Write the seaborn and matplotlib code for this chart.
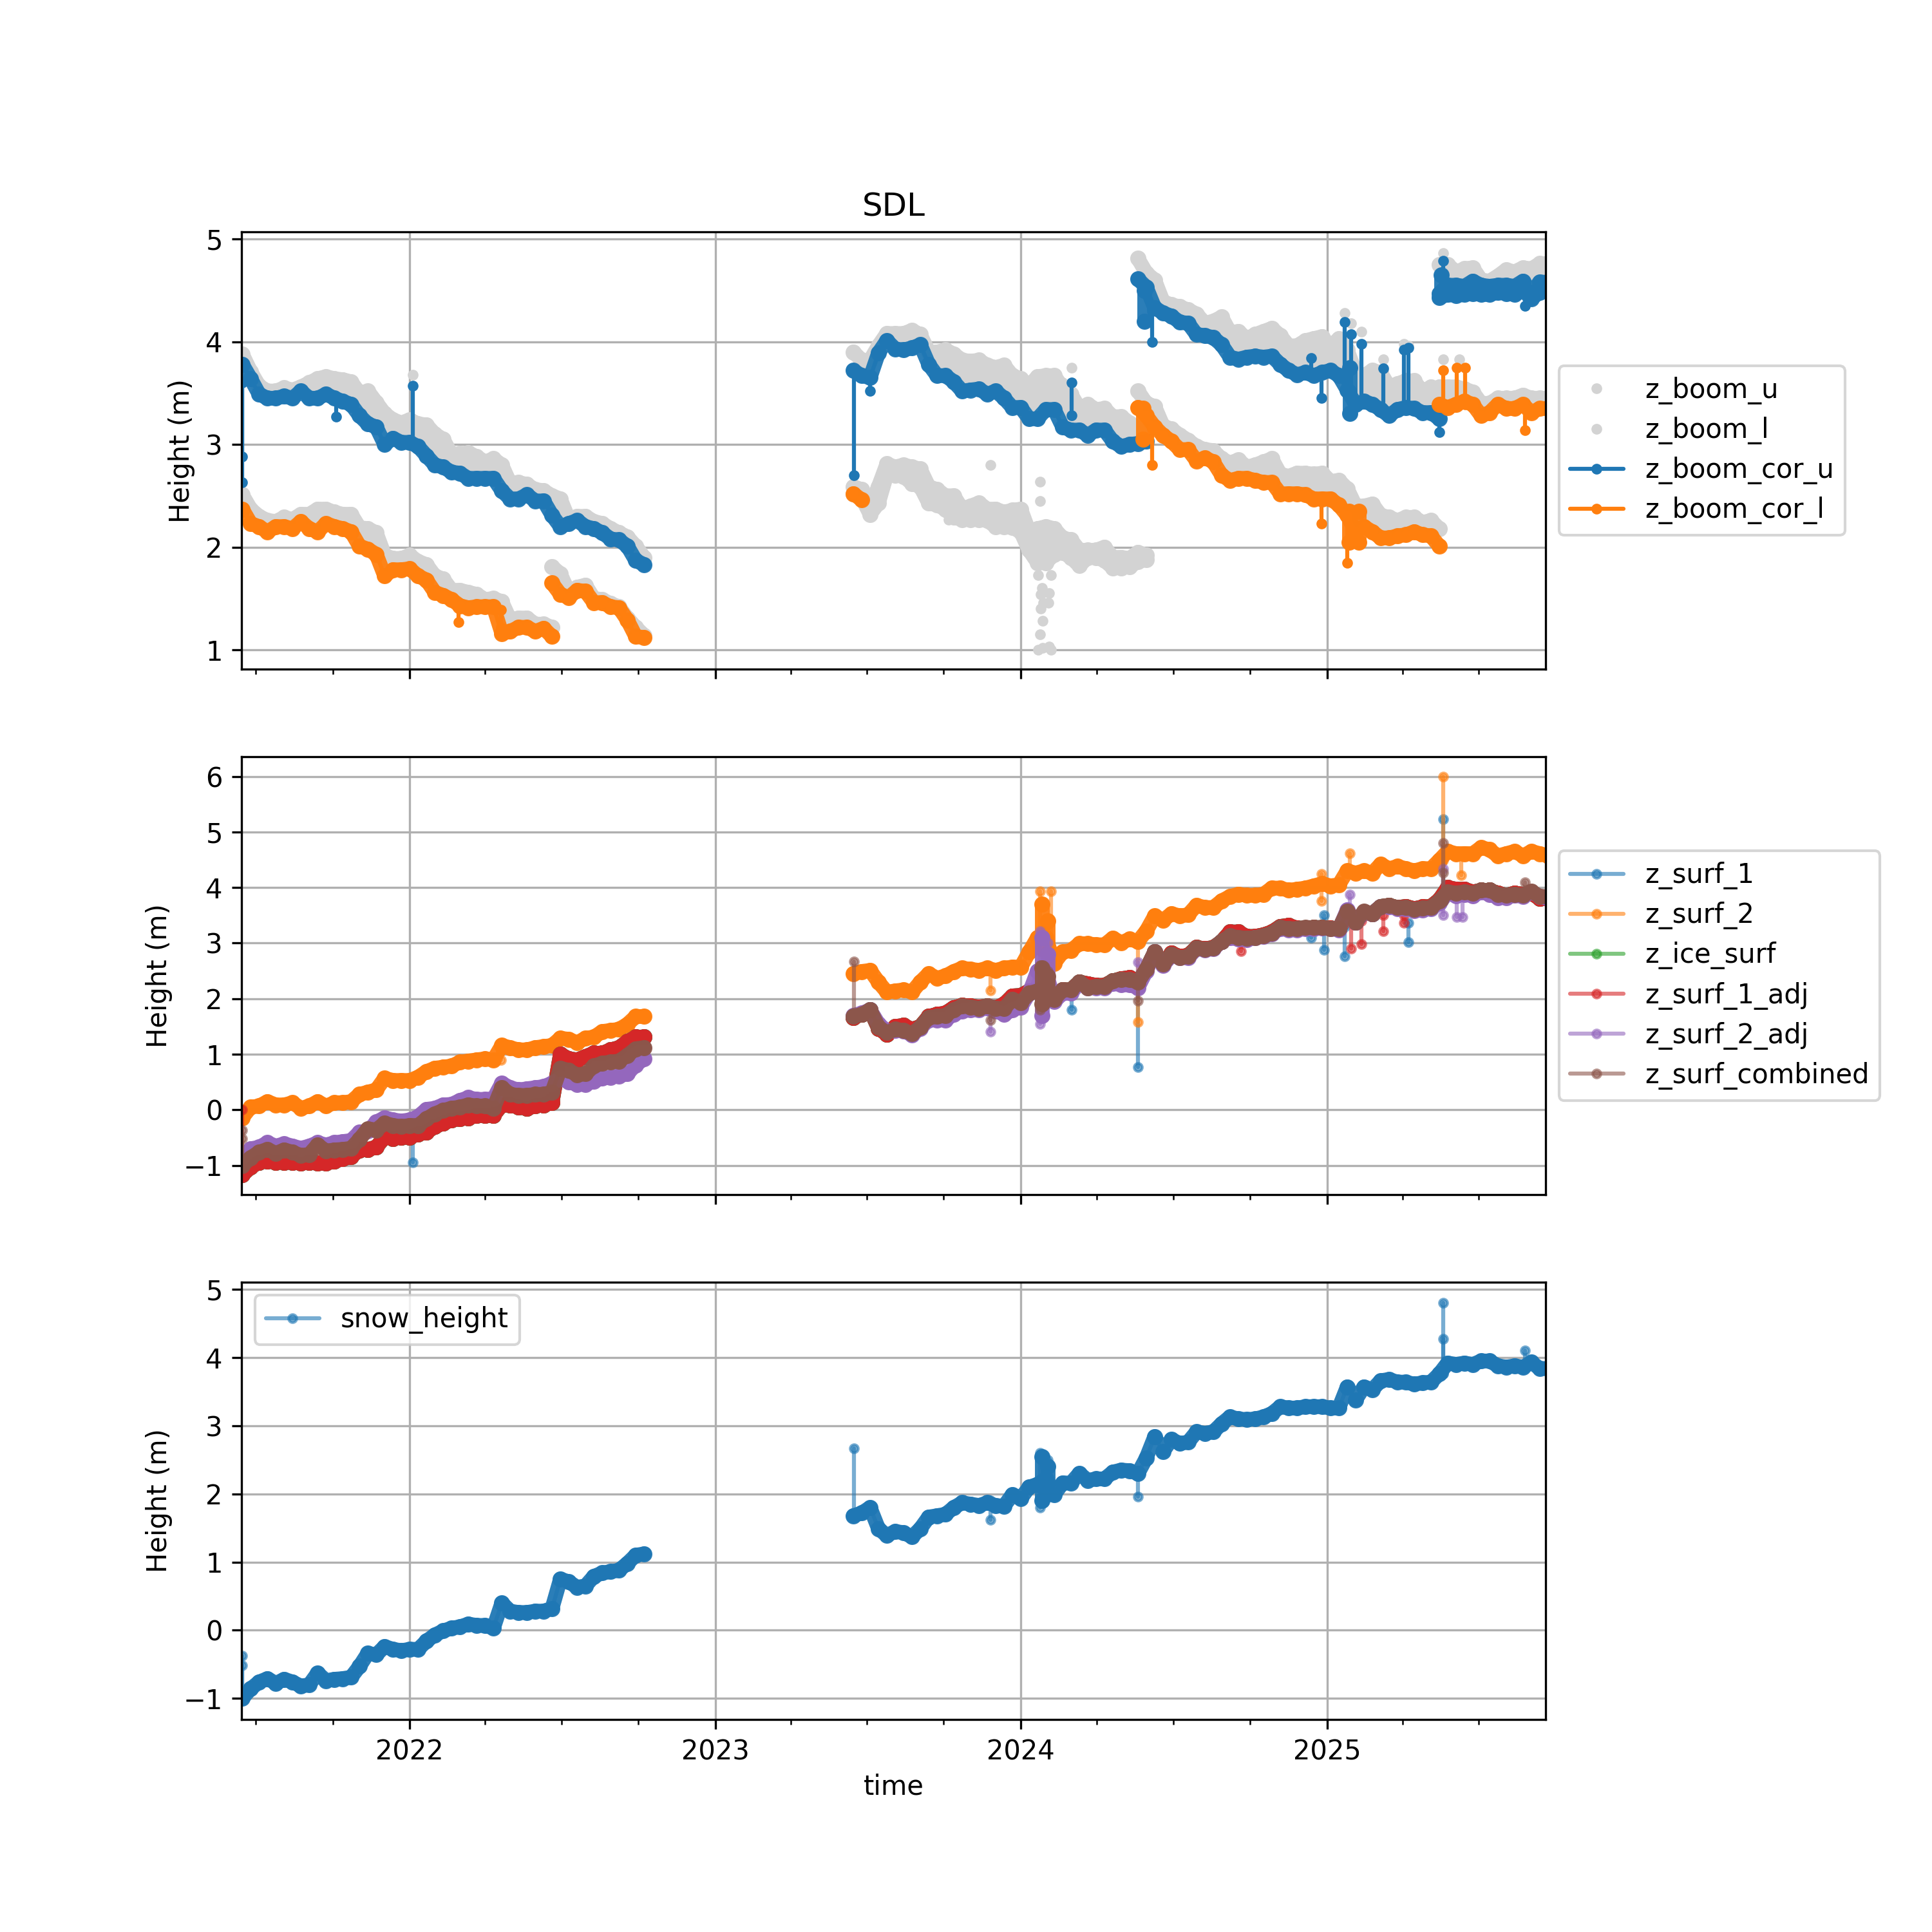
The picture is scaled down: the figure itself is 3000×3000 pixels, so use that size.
import matplotlib

matplotlib.use("Agg")
import matplotlib.dates as mdates
import matplotlib.pyplot as plt
import pandas as pd
import seaborn as sns

date_a = "2021-06-15"
date_a2 = "2022-06-20"
date_b = "2023-06-15"
date_c = "2024-05-20"
date_d = "2025-05-15"

z_boom_u_a = [3.88, 3.71, 3.57, 3.52, 3.52, 3.55, 3.53, 3.56, 3.6, 3.64,
              3.66, 3.64, 3.63, 3.61, 3.5, 3.52, 3.41, 3.3, 3.24, 3.21,
              3.24, 3.2, 3.19, 3.1, 3.05, 2.9, 2.91, 2.92, 2.88, 2.83,
              2.86, 2.8, 2.62, 2.63, 2.61, 2.56, 2.55, 2.5, 2.47, 2.27,
              2.3, 2.3, 2.25, 2.23, 2.18, 2.14, 2.1, 2.01, 1.9]
z_boom_u_b = [3.9, 3.82, 3.82, 3.96, 4.08, 4.08, 4.08, 4.11, 4.07, 3.9,
              3.9, 3.92, 3.88, 3.82, 3.81, 3.82, 3.77, 3.75, 3.77, 3.67,
              3.64, 3.57, 3.66, 3.67, 3.67, 3.55, 3.49, 3.35, 3.39, 3.34,
              3.35, 3.27, 3.27, 3.21, 3.16, 3.12]
z_boom_u_c = [4.81, 4.67, 4.6, 4.39, 4.36, 4.34, 4.31, 4.27, 4.18, 4.2,
              4.24, 4.09, 4.1, 4.03, 4.07, 4.1, 4.13, 4.06, 3.96, 3.96,
              4.01, 4.03, 4.05, 3.95, 4.03, 3.92, 3.7, 3.67, 3.72, 3.7,
              3.56, 3.59, 3.62, 3.62, 3.51, 3.56, 3.48]
z_boom_u_d = [4.75, 4.75, 4.68, 4.71, 4.72, 4.6, 4.59, 4.64, 4.7, 4.68, 4.72, 4.71, 4.76, 4.76]

z_boom_l_a = [2.51, 2.37, 2.3, 2.26, 2.25, 2.29, 2.27, 2.32, 2.32, 2.37,
              2.37, 2.34, 2.32, 2.32, 2.19, 2.18, 2.14, 1.92, 1.89, 1.89,
              1.92, 1.86, 1.83, 1.72, 1.69, 1.58, 1.58, 1.56, 1.54, 1.49,
              1.5, 1.47, 1.29, 1.31, 1.31, 1.25, 1.25, 1.22]
z_boom_l_a2 = [1.81, 1.74, 1.56, 1.61, 1.63, 1.5, 1.49, 1.45, 1.42, 1.31, 1.22, 1.14]
z_boom_l_b = [2.59, 2.56, 2.4, 2.59, 2.81, 2.78, 2.8, 2.78, 2.76, 2.59,
              2.56, 2.5, 2.5, 2.37, 2.4, 2.43, 2.37, 2.37, 2.34, 2.36,
              2.37, 2.15, 2.18, 2.2, 2.18, 2.09, 2.07, 1.97, 1.97, 1.97,
              2.0, 1.9, 1.9, 1.89, 1.95, 1.92]
z_boom_l_b_low = [2.52, 2.48, 2.32, 2.43, 2.71, 2.7, 2.69, 2.62, 2.59, 2.43,
                  2.41, 2.37, 2.29, 2.27, 2.27, 2.27, 2.26, 2.2, 2.2, 2.19,
                  2.15, 1.97, 1.85, 1.85, 1.93, 1.95, 1.9, 1.82, 1.9, 1.9,
                  1.87, 1.8, 1.8, 1.81, 1.86, 1.88]
z_boom_l_c = [3.52, 3.4, 3.37, 3.18, 3.15, 3.09, 3.04, 2.98, 2.95, 2.94,
              2.86, 2.82, 2.85, 2.78, 2.8, 2.83, 2.86, 2.71, 2.69, 2.72,
              2.72, 2.71, 2.72, 2.64, 2.65, 2.57, 2.4, 2.4, 2.42, 2.31,
              2.29, 2.26, 2.29, 2.29, 2.24, 2.26, 2.18]
z_boom_l_d = [3.56, 3.56, 3.56, 3.54, 3.51, 3.4, 3.4, 3.45, 3.45, 3.45, 3.48, 3.45, 3.45, 3.45]

z_boom_cor_u_a = [3.78, 3.64, 3.49, 3.45, 3.45, 3.47, 3.45, 3.52, 3.45, 3.45,
                  3.49, 3.45, 3.42, 3.39, 3.28, 3.2, 3.17, 3.0, 3.06, 3.02,
                  3.02, 2.98, 2.89, 2.8, 2.78, 2.73, 2.72, 2.67, 2.67, 2.67,
                  2.67, 2.55, 2.47, 2.47, 2.51, 2.45, 2.45, 2.31, 2.2, 2.23,
                  2.26, 2.2, 2.18, 2.14, 2.08, 2.07, 2.01, 1.87, 1.83]
z_boom_cor_u_b = [3.72, 3.67, 3.65, 3.89, 4.01, 3.93, 3.92, 3.94, 3.97, 3.78,
                  3.67, 3.67, 3.61, 3.52, 3.53, 3.54, 3.49, 3.52, 3.45, 3.36,
                  3.36, 3.25, 3.25, 3.34, 3.34, 3.17, 3.14, 3.14, 3.09, 3.14,
                  3.14, 3.03, 2.98, 3.0, 3.01, 3.03]
z_boom_cor_u_c = [4.61, 4.53, 4.33, 4.28, 4.25, 4.19, 4.18, 4.07, 4.06, 4.04,
                  3.97, 3.85, 3.83, 3.85, 3.86, 3.85, 3.86, 3.78, 3.72, 3.68,
                  3.7, 3.67, 3.7, 3.72, 3.67, 3.53, 3.39, 3.42, 3.39, 3.34,
                  3.28, 3.34, 3.36, 3.35, 3.31, 3.31, 3.25]
z_boom_cor_u_d = [4.47, 4.55, 4.55, 4.54, 4.59, 4.55, 4.54, 4.55, 4.55, 4.54, 4.59, 4.48, 4.58, 4.58]
z_boom_cor_u_d_low = [4.43, 4.46, 4.45, 4.46, 4.47, 4.46, 4.46, 4.48, 4.47, 4.46, 4.5, 4.42, 4.48, 4.5]

z_boom_cor_l_a = [2.37, 2.23, 2.2, 2.15, 2.2, 2.2, 2.18, 2.25, 2.18, 2.15,
                  2.23, 2.2, 2.18, 2.15, 2.01, 1.98, 1.93, 1.72, 1.78, 1.78,
                  1.79, 1.72, 1.68, 1.56, 1.53, 1.49, 1.43, 1.41, 1.42, 1.42,
                  1.42, 1.16, 1.18, 1.22, 1.22, 1.18, 1.21, 1.13]
z_boom_cor_l_a2 = [1.65, 1.54, 1.51, 1.58, 1.57, 1.46, 1.46, 1.42, 1.41, 1.29, 1.13, 1.12]
z_boom_cor_l_b = [2.52, 2.46]
z_boom_cor_l_c = [3.36, 3.28, 3.17, 3.09, 3.03, 2.95, 2.95, 2.84, 2.87, 2.83,
                  2.7, 2.65, 2.67, 2.67, 2.65, 2.63, 2.63, 2.52, 2.52, 2.52,
                  2.51, 2.47, 2.47, 2.47, 2.41, 2.31, 2.15, 2.2, 2.15, 2.09,
                  2.09, 2.11, 2.12, 2.15, 2.12, 2.11, 2.01]
z_boom_cor_l_d = [3.39, 3.36, 3.39, 3.42, 3.39, 3.28, 3.31, 3.39, 3.35, 3.35, 3.39, 3.31, 3.35, 3.35]

z_surf_2_a = [-0.14, 0.05, 0.07, 0.15, 0.09, 0.09, 0.13, 0.03, 0.07, 0.15,
              0.07, 0.13, 0.13, 0.15, 0.28, 0.32, 0.36, 0.57, 0.53, 0.53,
              0.53, 0.59, 0.69, 0.75, 0.77, 0.79, 0.86, 0.88, 0.9, 0.92,
              0.9, 1.16, 1.12, 1.08, 1.08, 1.12, 1.14, 1.16, 1.29, 1.27,
              1.21, 1.29, 1.31, 1.41, 1.43, 1.45, 1.54, 1.68, 1.68]
z_surf_2_b = [2.45, 2.49, 2.51, 2.3, 2.12, 2.14, 2.16, 2.12, 2.3, 2.45,
              2.37, 2.41, 2.49, 2.55, 2.53, 2.51, 2.55, 2.51, 2.55, 2.57,
              2.57, 2.84, 3.1, 3.1, 2.64, 2.84, 2.87, 2.99, 2.99, 2.97,
              2.97, 3.09, 3.01, 3.07, 3.03, 3.22, 3.49, 3.41, 3.53, 3.49,
              3.51, 3.68, 3.64, 3.64, 3.76, 3.84, 3.88, 3.86, 3.86, 3.88,
              3.99, 3.99, 3.95, 3.97, 3.99, 4.03, 4.07, 4.03, 4.05, 4.3,
              4.26, 4.3, 4.26, 4.42, 4.34, 4.38, 4.34, 4.3, 4.34, 4.34,
              4.49, 4.65, 4.61, 4.61, 4.61, 4.72, 4.68, 4.57, 4.61, 4.65,
              4.57, 4.65, 4.61, 4.57]
z_surf_1_adj_a = [-1.17, -1.03, -0.94, -0.92, -0.94, -0.94, -0.94, -0.96, -0.94, -0.96,
                  -0.96, -0.92, -0.88, -0.84, -0.72, -0.71, -0.67, -0.49, -0.51, -0.49,
                  -0.49, -0.43, -0.4, -0.3, -0.24, -0.18, -0.16, -0.14, -0.1, -0.1,
                  -0.1, 0.09, 0.09, 0.05, 0.03, 0.07, 0.09, 0.13, 1.0, 0.92,
                  0.9, 0.96, 1.02, 1.02, 1.08, 1.12, 1.23, 1.31, 1.31]
z_surf_1_adj_b = [1.66, 1.72, 1.8, 1.47, 1.36, 1.5, 1.52, 1.45, 1.5, 1.68,
                  1.72, 1.74, 1.84, 1.88, 1.87, 1.85, 1.87, 1.84, 1.9, 2.05,
                  2.06, 2.14, 2.14, 2.2, 2.0, 2.16, 2.16, 2.3, 2.27, 2.24,
                  2.24, 2.32, 2.36, 2.38, 2.3, 2.53, 2.84, 2.62, 2.82, 2.76,
                  2.78, 2.92, 2.9, 2.92, 3.03, 3.2, 3.2, 3.12, 3.12, 3.15,
                  3.2, 3.3, 3.32, 3.27, 3.27, 3.28, 3.28, 3.27, 3.25, 3.52,
                  3.38, 3.55, 3.53, 3.66, 3.68, 3.64, 3.66, 3.62, 3.65, 3.66,
                  3.78, 4.0, 3.97, 3.97, 3.92, 3.95, 3.95, 3.9, 3.86, 3.9,
                  3.88, 3.9, 3.8, 3.8]
z_surf_2_adj_a = [-0.84, -0.7, -0.67, -0.59, -0.65, -0.61, -0.65, -0.69, -0.65, -0.59,
                  -0.63, -0.59, -0.57, -0.55, -0.4, -0.38, -0.22, -0.14, -0.18, -0.2,
                  -0.18, -0.12, 0.01, 0.03, 0.09, 0.1, 0.17, 0.22, 0.19, 0.19,
                  0.2, 0.48, 0.4, 0.36, 0.38, 0.4, 0.42, 0.48, 0.57, 0.5,
                  0.46, 0.46, 0.52, 0.57, 0.59, 0.61, 0.65, 0.81, 0.92]
z_surf_2_adj_b = [1.7, 1.74, 1.8, 1.55, 1.42, 1.43, 1.42, 1.35, 1.47, 1.62,
                  1.62, 1.62, 1.72, 1.78, 1.8, 1.8, 1.84, 1.78, 1.72, 1.8,
                  1.85, 2.1, 2.5, 2.5, 1.95, 2.1, 2.1, 2.28, 2.2, 2.2,
                  2.2, 2.28, 2.25, 2.25, 2.2, 2.5, 2.84, 2.6, 2.78, 2.74,
                  2.74, 2.9, 2.88, 2.9, 3.03, 3.1, 3.07, 3.06, 3.1, 3.12,
                  3.17, 3.26, 3.24, 3.24, 3.26, 3.26, 3.27, 3.26, 3.24, 3.6,
                  3.38, 3.55, 3.53, 3.66, 3.66, 3.62, 3.62, 3.58, 3.6, 3.62,
                  3.72, 3.9, 3.85, 3.88, 3.85, 3.92, 3.88, 3.82, 3.82, 3.86,
                  3.84, 3.92, 3.84, 3.8]
z_surf_combined_a = [-1.0, -0.86, -0.76, -0.71, -0.78, -0.72, -0.76, -0.82, -0.8, -0.63,
                     -0.74, -0.72, -0.71, -0.69, -0.53, -0.34, -0.36, -0.24, -0.28, -0.3,
                     -0.28, -0.28, -0.16, -0.07, -0.01, 0.03, 0.05, 0.09, 0.07, 0.07,
                     0.03, 0.4, 0.28, 0.26, 0.26, 0.28, 0.28, 0.32, 0.75, 0.71,
                     0.63, 0.65, 0.79, 0.84, 0.86, 0.88, 0.98, 1.1, 1.12]
z_surf_combined_b = [1.68, 1.72, 1.8, 1.49, 1.39, 1.45, 1.43, 1.37, 1.49, 1.66,
                     1.68, 1.7, 1.8, 1.87, 1.85, 1.83, 1.87, 1.83, 1.82, 1.99,
                     1.93, 2.1, 2.14, 2.22, 1.99, 2.16, 2.16, 2.3, 2.2, 2.22,
                     2.22, 2.32, 2.35, 2.34, 2.3, 2.53, 2.84, 2.62, 2.8, 2.74,
                     2.76, 2.91, 2.89, 2.91, 3.03, 3.13, 3.1, 3.09, 3.1, 3.13,
                     3.18, 3.28, 3.26, 3.26, 3.28, 3.28, 3.28, 3.26, 3.26, 3.57,
                     3.38, 3.57, 3.53, 3.66, 3.68, 3.64, 3.64, 3.61, 3.63, 3.64,
                     3.76, 3.92, 3.9, 3.92, 3.9, 3.95, 3.95, 3.88, 3.86, 3.88,
                     3.86, 3.93, 3.84, 3.84]

# spikes away from the main trace: date, value it leaves from, value it reaches
stems_cor_u = [("2021-06-15", 3.6, 2.63), ("2021-06-15", 3.6, 2.88), ("2022-01-05", 3.02, 3.57), ("2021-10-05", 3.45, 3.27),
               ("2023-06-16", 3.72, 2.7), ("2023-07-05", 3.65, 3.52), ("2024-03-02", 3.28, 3.6),
               ("2024-12-13", 3.7, 3.84), ("2024-12-25", 3.7, 3.45), ("2025-01-22", 3.67, 4.19),
               ("2025-01-30", 3.53, 4.07), ("2025-02-11", 3.42, 3.98), ("2025-03-09", 3.34, 3.74),
               ("2025-04-03", 3.36, 3.92), ("2025-04-08", 3.36, 3.94), ("2025-05-15", 3.25, 3.12),
               ("2024-06-06", 4.3, 4.0), ("2025-05-20", 4.47, 4.79), ("2025-08-25", 4.5, 4.35)]
stems_cor_l = [("2022-04-20", 1.22, 1.39), ("2022-02-28", 1.42, 1.27), ("2024-06-06", 3.15, 2.8),
               ("2024-12-25", 2.47, 2.23), ("2025-01-25", 2.3, 1.85), ("2025-05-20", 3.39, 3.72),
               ("2025-06-05", 3.39, 3.75), ("2025-06-15", 3.39, 3.75), ("2025-08-25", 3.35, 3.14)]
stems_surf_1 = [("2022-01-05", -0.5, -0.95), ("2024-03-02", 2.16, 1.8), ("2024-05-20", 2.3, 0.77),
                ("2024-12-13", 3.28, 3.1), ("2024-12-28", 3.5, 2.88), ("2025-01-22", 3.3, 2.76),
                ("2025-04-08", 3.36, 3.02), ("2025-05-20", 3.76, 5.23)]
stems_surf_2 = [("2022-04-20", 0.9, 1.06), ("2024-01-24", 3.0, 3.93), ("2024-02-06", 2.7, 3.93),
                ("2023-11-26", 2.55, 2.15), ("2024-05-20", 3.03, 1.58), ("2025-01-28", 4.3, 4.62),
                ("2025-05-20", 4.49, 6.0), ("2025-06-10", 4.61, 4.22), ("2024-12-25", 4.07, 3.76),
                ("2024-12-25", 4.07, 4.24)]
stems_surf_1_adj = [("2021-06-15", -1.17, 0.0), ("2025-01-30", 3.4, 2.9), ("2025-02-11", 3.4, 2.98),
                    ("2025-03-09", 3.5, 3.21), ("2025-04-03", 3.5, 3.36), ("2024-09-20", 3.03, 2.85)]
stems_surf_2_adj = [("2024-01-24", 2.2, 3.22), ("2024-01-24", 1.9, 1.55), ("2024-02-02", 2.2, 3.0),
                    ("2024-01-28", 1.9, 1.7), ("2023-11-26", 1.9, 1.41),
                    ("2024-05-20", 2.3, 2.66), ("2025-01-28", 3.5, 3.88), ("2025-05-20", 3.76, 4.34),
                    ("2025-05-20", 3.76, 3.5), ("2025-06-05", 3.92, 3.47), ("2025-06-12", 3.92, 3.47)]
stems_combined = [("2021-06-15", -1.0, -0.37), ("2021-06-15", -1.0, -0.52), ("2023-06-16", 1.68, 2.67), ("2023-11-26", 1.9, 1.62),
                  ("2024-01-24", 2.2, 2.6), ("2024-01-24", 2.1, 1.8), ("2024-02-02", 2.2, 2.5),
                  ("2024-05-20", 2.3, 1.96), ("2025-05-20", 3.76, 4.8), ("2025-05-20", 3.76, 4.27), ("2025-08-25", 3.9, 4.1)]

# busy stretches where the samples fill a whole column
dense_cor_u = [("2024-05-28", 4.5, 4.2), ("2025-01-28", 3.3, 3.75), ("2025-05-17", 4.45, 4.65)]
dense_cor_l = [("2024-05-26", 3.35, 3.05), ("2025-01-27", 2.05, 2.35), ("2025-02-08", 2.05, 2.35)]
dense_surf_2 = [("2024-01-26", 2.9, 3.7), ("2024-02-02", 2.9, 3.4)]
dense_surf_2_adj = [("2024-01-26", 1.7, 3.1), ("2024-02-02", 2.0, 2.8)]
dense_combined = [("2024-01-26", 1.9, 2.55), ("2024-02-02", 2.0, 2.4)]

# stray grey samples, no line between them
outlier_dates_u = ["2022-01-05", "2024-03-02", "2024-02-20", "2025-01-22", "2025-01-30", "2025-02-11",
                   "2025-03-09", "2025-04-03", "2025-04-08", "2025-05-20", "2025-05-20", "2025-06-08"]
outlier_values_u = [3.68, 3.75, 3.6, 4.28, 4.18, 4.1, 3.83, 3.98, 3.96, 4.86, 3.83, 3.83]
outlier_dates_l = ["2023-10-07", "2023-11-26", "2023-11-26", "2023-12-20", "2024-01-24", "2024-01-24",
                   "2024-01-22", "2024-01-26", "2024-02-06", "2024-01-25", "2024-01-28", "2024-02-03",
                   "2024-01-25", "2024-02-04", "2024-01-27", "2024-01-24", "2024-01-22", "2024-01-27",
                   "2024-02-06", "2024-02-04", "2024-01-24"]
outlier_values_l = [2.27, 2.8, 2.23, 2.22, 2.64, 2.45, 1.73, 1.6, 1.73, 1.54, 1.46, 1.46,
                    1.4, 1.55, 1.28, 1.15, 1.0, 1.02, 1.0, 1.03, 1.85]

color_gray = "lightgray"
tab = sns.color_palette("tab10")


def draw_frame(ax, df, color, alpha=1.0, label=None, line=True, thick=False):
    # thick pass stands in for the spread of the hourly samples in the source
    sns.lineplot(
        data=df, x="time", y="height", ax=ax, color=color, alpha=alpha, label=label,
        marker=".", markersize=10 if thick else 6, markeredgecolor=color, markeredgewidth=1.0,
        linewidth=5.5 if thick else 1.5, linestyle="-" if line else "none",
        solid_capstyle="round", solid_joinstyle="round",
        estimator=None, errorbar=None, sort=False, legend=False,
    )


def chunk_frame(start, values):
    times = pd.date_range(start, periods=len(values), freq="10D")
    return pd.DataFrame({"time": times, "height": values})


def draw_stems(ax, stems, color, alpha=1.0, thick=False):
    for date, base, tip in stems:
        df = pd.DataFrame({"time": pd.to_datetime([date, date]), "height": [base, tip]})
        draw_frame(ax, df, color, alpha, thick=thick)


def draw_band(ax, start, low, high):
    times = pd.date_range(start, periods=len(low), freq="10D")
    ax.fill_between(times, low, high, color=color_gray, lw=0, zorder=1.8)


def draw_series(ax, chunks, stems, color, label, alpha=0.6, dense=()):
    for i, (start, values) in enumerate(chunks):
        draw_frame(ax, chunk_frame(start, values), color, alpha, label if i == 0 else None)
    draw_stems(ax, stems, color, alpha)
    for start, values in chunks:
        draw_frame(ax, chunk_frame(start, values), color, 0.95, thick=True)
    draw_stems(ax, dense, color, 0.95, thick=True)


def draw_gray(ax, chunks, outlier_dates, outlier_values, label):
    for i, (start, values) in enumerate(chunks):
        draw_frame(ax, chunk_frame(start, values), color_gray, label=label if i == 0 else None, line=False)
        draw_frame(ax, chunk_frame(start, values), color_gray, thick=True)
    outliers = pd.DataFrame({"time": pd.to_datetime(outlier_dates), "height": outlier_values})
    draw_frame(ax, outliers, color_gray, line=False)


fig, axes = plt.subplots(3, 1, figsize=(10, 10), sharex=True)
fig.subplots_adjust(right=0.8)
ax1, ax2, ax3 = axes

# boom heights
draw_band(ax1, date_a, z_boom_cor_u_a, z_boom_u_a)
draw_band(ax1, date_b, z_boom_cor_u_b, z_boom_u_b)
draw_band(ax1, date_c, z_boom_cor_u_c, z_boom_u_c)
draw_band(ax1, date_d, z_boom_cor_u_d, z_boom_u_d)
draw_band(ax1, date_a, z_boom_cor_l_a, z_boom_l_a)
draw_band(ax1, date_a2, z_boom_cor_l_a2, z_boom_l_a2)
draw_band(ax1, date_b, z_boom_l_b_low, z_boom_l_b)
draw_band(ax1, date_c, z_boom_cor_l_c, z_boom_l_c)
draw_band(ax1, date_d, z_boom_cor_l_d, z_boom_l_d)

draw_gray(ax1, [(date_a, z_boom_u_a), (date_b, z_boom_u_b), (date_c, z_boom_u_c), (date_d, z_boom_u_d)],
          outlier_dates_u, outlier_values_u, "z_boom_u")
draw_gray(ax1, [(date_a, z_boom_l_a), (date_a2, z_boom_l_a2), (date_b, z_boom_l_b), (date_b, z_boom_l_b_low),
                (date_c, z_boom_l_c), (date_d, z_boom_l_d)],
          outlier_dates_l, outlier_values_l, "z_boom_l")
draw_series(ax1, [(date_a, z_boom_cor_u_a), (date_b, z_boom_cor_u_b), (date_c, z_boom_cor_u_c), (date_d, z_boom_cor_u_d),
                  (date_d, z_boom_cor_u_d_low)],
            stems_cor_u, tab[0], "z_boom_cor_u", alpha=1.0, dense=dense_cor_u)
draw_series(ax1, [(date_a, z_boom_cor_l_a), (date_a2, z_boom_cor_l_a2), (date_b, z_boom_cor_l_b),
                  (date_c, z_boom_cor_l_c), (date_d, z_boom_cor_l_d)],
            stems_cor_l, tab[1], "z_boom_cor_l", alpha=1.0, dense=dense_cor_l)

# surface heights
chunks_1 = [(date_a, z_surf_1_adj_a), (date_b, z_surf_1_adj_b)]
draw_series(ax2, chunks_1, stems_surf_1, tab[0], "z_surf_1")
draw_series(ax2, [(date_a, z_surf_2_a), (date_b, z_surf_2_b)], stems_surf_2, tab[1], "z_surf_2", dense=dense_surf_2)
draw_series(ax2, chunks_1, [], tab[2], "z_ice_surf")
draw_series(ax2, chunks_1, stems_surf_1_adj, tab[3], "z_surf_1_adj")
draw_series(ax2, [(date_a, z_surf_2_adj_a), (date_b, z_surf_2_adj_b)], stems_surf_2_adj, tab[4], "z_surf_2_adj",
            dense=dense_surf_2_adj)
draw_series(ax2, [(date_a, z_surf_combined_a), (date_b, z_surf_combined_b)], stems_combined, tab[5], "z_surf_combined",
            dense=dense_combined)

# snow height
draw_series(ax3, [(date_a, z_surf_combined_a), (date_b, z_surf_combined_b)], stems_combined, tab[0], "snow_height",
            dense=dense_combined)

ax1.set_ylim(0.81, 5.07)
ax2.set_ylim(-1.52, 6.35)
ax3.set_ylim(-1.31, 5.11)
ax3.set_xlim(pd.Timestamp("2021-06-14"), pd.Timestamp("2025-09-19"))

ax3.xaxis.set_major_locator(mdates.YearLocator())
ax3.xaxis.set_major_formatter(mdates.DateFormatter("%Y"))
ax3.xaxis.set_minor_locator(mdates.MonthLocator(bymonth=[1, 4, 7, 10]))

for ax in axes:
    ax.grid(True)
    ax.set_ylabel("Height (m)")
    ax.set_xlabel("")
ax3.set_xlabel("time", labelpad=3)
ax1.set_title("SDL")
ax1.legend(loc="center left", bbox_to_anchor=(1, 0.5), labelspacing=0.46)
ax2.legend(loc="center left", bbox_to_anchor=(1, 0.5), labelspacing=0.46)
ax3.legend(loc="upper left")

fig.savefig("out.png", dpi=300)
